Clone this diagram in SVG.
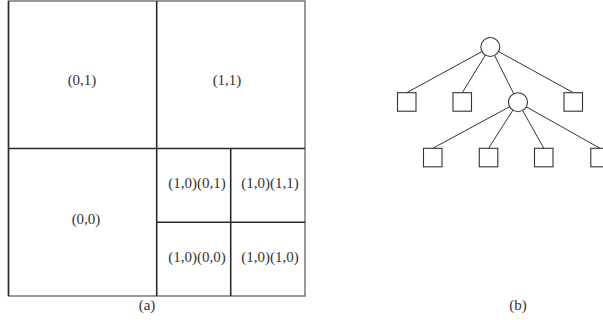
<svg xmlns="http://www.w3.org/2000/svg" width="603" height="320" viewBox="0 0 603 320">
  <style>
    .lbl { font-family: "Liberation Serif", "Times New Roman", serif; font-size: 15px; fill: #333; text-anchor: middle; }
    .outer { fill: none; stroke: #555; stroke-width: 1.2; }
    .div { stroke: #2a2a2a; stroke-width: 1.6; fill: none; }
    .edge { stroke: #333; stroke-width: 1; fill: none; }
    .node { fill: #fff; stroke: #333; stroke-width: 1.1; }
  </style>
  <rect width="603" height="320" fill="#fff"/>

  <!-- (a) quadtree partition -->
  <g id="partition">
    <rect class="outer" x="8.5" y="1" width="296.5" height="295"/>
    <line class="div" x1="8.5" y1="1" x2="8.5" y2="296"/>
    <line class="div" x1="156.7" y1="1" x2="156.7" y2="296"/>
    <line class="div" x1="8.5" y1="148.5" x2="305" y2="148.5"/>
    <line class="div" x1="230.7" y1="148.5" x2="230.7" y2="296"/>
    <line class="div" x1="156.7" y1="222.3" x2="305" y2="222.3"/>
  </g>
  <g id="cell-01"><text class="lbl" x="82" y="85">(0,1)</text></g>
  <g id="cell-11"><text class="lbl" x="227" y="85">(1,1)</text></g>
  <g id="cell-00"><text class="lbl" x="86" y="224">(0,0)</text></g>
  <g id="cell-10-01"><text class="lbl" x="197" y="188">(1,0)(0,1)</text></g>
  <g id="cell-10-11"><text class="lbl" x="270" y="188">(1,0)(1,1)</text></g>
  <g id="cell-10-00"><text class="lbl" x="197" y="262">(1,0)(0,0)</text></g>
  <g id="cell-10-10"><text class="lbl" x="270" y="262">(1,0)(1,0)</text></g>
  <text class="lbl" x="147" y="310">(a)</text>

  <!-- (b) tree -->
  <g id="connectors">
    <line class="edge" x1="490.3" y1="47" x2="406.7" y2="92.7"/>
    <line class="edge" x1="490.3" y1="47" x2="462.3" y2="92.7"/>
    <line class="edge" x1="490.3" y1="47" x2="518" y2="102.2"/>
    <line class="edge" x1="490.3" y1="47" x2="573.3" y2="92.7"/>
    <line class="edge" x1="518" y1="102.2" x2="432.7" y2="148.3"/>
    <line class="edge" x1="518" y1="102.2" x2="488.5" y2="148.3"/>
    <line class="edge" x1="518" y1="102.2" x2="543.8" y2="148.3"/>
    <line class="edge" x1="518" y1="102.2" x2="600" y2="148.3"/>
  </g>
  <g id="root"><circle class="node" cx="490.3" cy="47" r="9.5"/></g>
  <g id="leaf-1"><rect class="node" x="397.5" y="92.7" width="18.5" height="18.5"/></g>
  <g id="leaf-2"><rect class="node" x="453" y="92.7" width="18.5" height="18.5"/></g>
  <g id="inner"><circle class="node" cx="518" cy="102.2" r="9.5"/></g>
  <g id="leaf-3"><rect class="node" x="564" y="92.7" width="18.5" height="18.5"/></g>
  <g id="leaf-4"><rect class="node" x="423.5" y="148.3" width="18.5" height="18.5"/></g>
  <g id="leaf-5"><rect class="node" x="479.3" y="148.3" width="18.5" height="18.5"/></g>
  <g id="leaf-6"><rect class="node" x="534.5" y="148.3" width="18.5" height="18.5"/></g>
  <g id="leaf-7"><rect class="node" x="590.8" y="148.3" width="18.5" height="18.5"/></g>
  <text class="lbl" x="518" y="310">(b)</text>
</svg>
